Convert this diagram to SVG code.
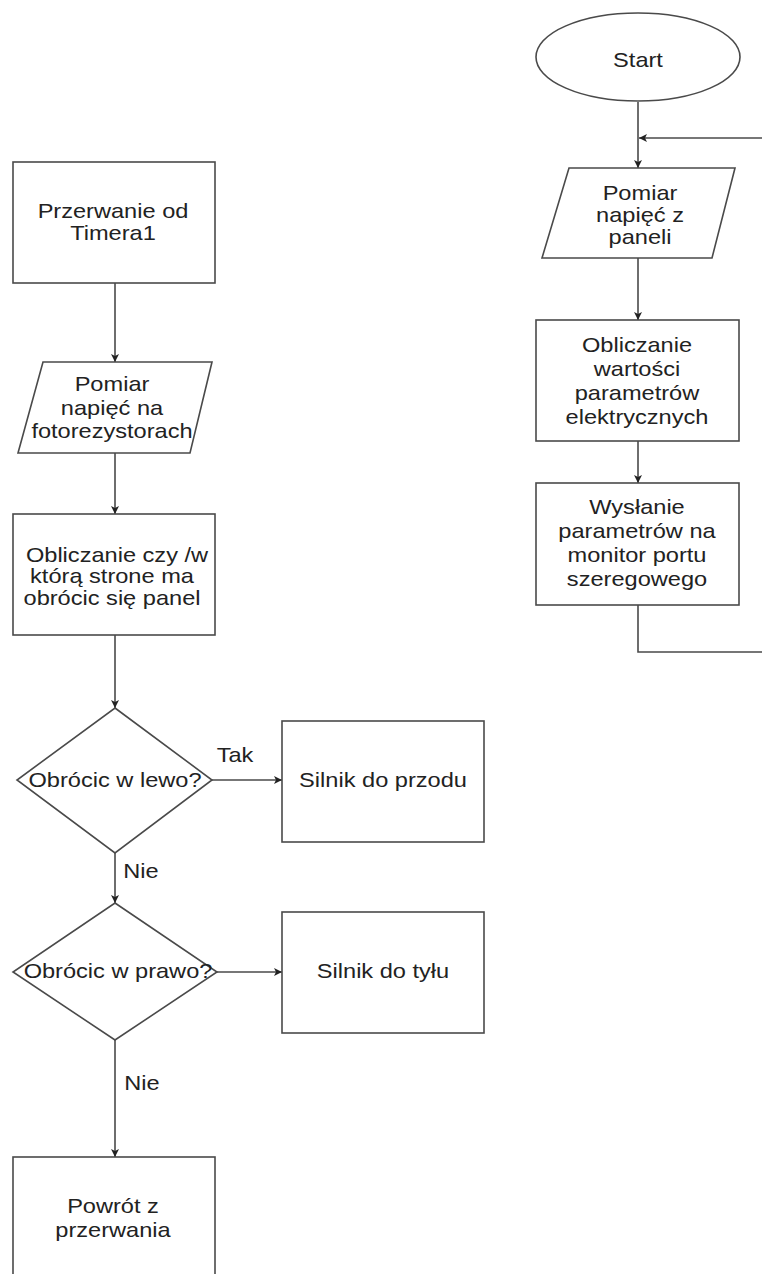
<svg xmlns="http://www.w3.org/2000/svg" width="762" height="1274" viewBox="0 0 762 1274">
<defs>
<style>
.shape{fill:#fff;stroke:#4a4a4a;stroke-width:1.6}
.conn{fill:none;stroke:#4a4a4a;stroke-width:1.6}
.t{font-family:"Liberation Sans",Arial,sans-serif;font-size:20px;fill:#222;text-anchor:middle}
</style>
<marker id="arr" viewBox="0 0 8 8" refX="8" refY="4" markerWidth="8" markerHeight="8" markerUnits="userSpaceOnUse" orient="auto">
<path d="M0,0 L8,4 L0,8 L2,4 z" fill="#222"/>
</marker>
</defs>
<rect width="762" height="1274" fill="#fff"/>
<g id="connectors">
<line class="conn" x1="638" y1="102" x2="638" y2="168" marker-end="url(#arr)"/>
<line class="conn" x1="762" y1="138" x2="639" y2="138" marker-end="url(#arr)"/>
<line class="conn" x1="638" y1="258" x2="638" y2="320" marker-end="url(#arr)"/>
<line class="conn" x1="638" y1="441" x2="638" y2="483" marker-end="url(#arr)"/>
<polyline class="conn" points="638,605 638,652 762,652"/>
<line class="conn" x1="115" y1="283" x2="115" y2="362" marker-end="url(#arr)"/>
<line class="conn" x1="115" y1="453" x2="115" y2="514" marker-end="url(#arr)"/>
<line class="conn" x1="115" y1="635" x2="115" y2="708" marker-end="url(#arr)"/>
<line class="conn" x1="212" y1="780" x2="282" y2="780" marker-end="url(#arr)"/>
<line class="conn" x1="115" y1="853" x2="115" y2="903" marker-end="url(#arr)"/>
<line class="conn" x1="217" y1="972" x2="282" y2="972" marker-end="url(#arr)"/>
<line class="conn" x1="115" y1="1040" x2="115" y2="1157" marker-end="url(#arr)"/>
<text class="t" transform="matrix(1.18 0 0 1 235 0)"><tspan x="0" y="762">Tak</tspan></text>
<text class="t" transform="matrix(1.18 0 0 1 141 0)"><tspan x="0" y="878">Nie</tspan></text>
<text class="t" transform="matrix(1.18 0 0 1 142 0)"><tspan x="0" y="1090">Nie</tspan></text>
</g>
<g id="start">
<ellipse class="shape" cx="638" cy="57" rx="102" ry="44"/>
<text class="t" transform="matrix(1.18 0 0 1 638 0)"><tspan x="0" y="67">Start</tspan></text>
</g>
<g id="pomiar-paneli">
<polygon class="shape" points="569,168 735,168 712,258 542,258"/>
<text class="t" transform="matrix(1.18 0 0 1 640 0)"><tspan x="0" y="200">Pomiar</tspan><tspan x="0" y="222">napięć z</tspan><tspan x="0" y="244">paneli</tspan></text>
</g>
<g id="obliczanie-wartosci">
<rect class="shape" x="536" y="320" width="203" height="121"/>
<text class="t" transform="matrix(1.18 0 0 1 637 0)"><tspan x="0" y="352">Obliczanie</tspan><tspan x="0" y="376">wartości</tspan><tspan x="0" y="400">parametrów</tspan><tspan x="0" y="424">elektrycznych</tspan></text>
</g>
<g id="wyslanie">
<rect class="shape" x="536" y="483" width="203" height="122"/>
<text class="t" transform="matrix(1.18 0 0 1 637 0)"><tspan x="0" y="514">Wysłanie</tspan><tspan x="0" y="538">parametrów na</tspan><tspan x="0" y="562">monitor portu</tspan><tspan x="0" y="586">szeregowego</tspan></text>
</g>
<g id="przerwanie">
<rect class="shape" x="13" y="162" width="202" height="121"/>
<text class="t" transform="matrix(1.18 0 0 1 113 0)"><tspan x="0" y="218">Przerwanie od</tspan><tspan x="0" y="240">Timera1</tspan></text>
</g>
<g id="pomiar-foto">
<polygon class="shape" points="43,362 212,362 190,453 18,453"/>
<text class="t" transform="matrix(1.18 0 0 1 112 0)"><tspan x="0" y="391">Pomiar</tspan><tspan x="0" y="415">napięć na</tspan><tspan x="0" y="438">fotorezystorach</tspan></text>
</g>
<g id="obliczanie-strona">
<rect class="shape" x="13" y="514" width="202" height="121"/>
<text class="t" transform="matrix(1.18 0 0 1 117 0)"><tspan x="0" y="562">Obliczanie czy /w</tspan></text>
<text class="t" transform="matrix(1.18 0 0 1 112 0)"><tspan x="0" y="583">którą strone ma</tspan><tspan x="0" y="605">obrócic się panel</tspan></text>
</g>
<g id="lewo">
<polygon class="shape" points="115,708 212,780 115,853 17,780"/>
<text class="t" transform="matrix(1.18 0 0 1 115 0)"><tspan x="0" y="787">Obrócic w lewo?</tspan></text>
</g>
<g id="przodu">
<rect class="shape" x="282" y="721" width="202" height="121"/>
<text class="t" transform="matrix(1.18 0 0 1 383 0)"><tspan x="0" y="787">Silnik do przodu</tspan></text>
</g>
<g id="prawo">
<polygon class="shape" points="115,903 217,972 115,1040 13,972"/>
<text class="t" transform="matrix(1.18 0 0 1 118 0)"><tspan x="0" y="978">Obrócic w prawo?</tspan></text>
</g>
<g id="tylu">
<rect class="shape" x="282" y="912" width="202" height="121"/>
<text class="t" transform="matrix(1.18 0 0 1 383 0)"><tspan x="0" y="978">Silnik do tyłu</tspan></text>
</g>
<g id="powrot">
<rect class="shape" x="13" y="1157" width="202" height="140"/>
<text class="t" transform="matrix(1.18 0 0 1 113 0)"><tspan x="0" y="1213">Powrót z</tspan><tspan x="0" y="1237">przerwania</tspan></text>
</g>
</svg>
